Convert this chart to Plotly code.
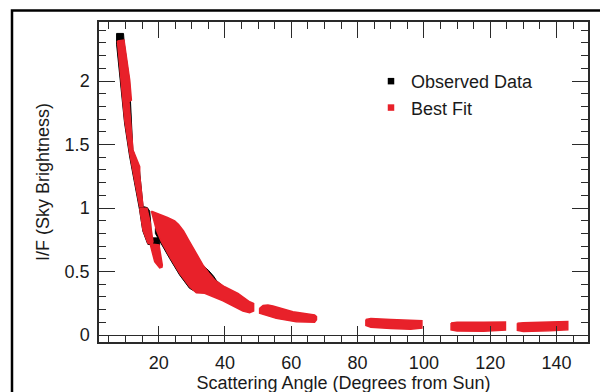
import plotly.graph_objects as go

# ---------------- data ----------------
# Each band is given by its upper and lower edges as (scattering angle [deg], I/F)

# Best Fit (red) bands
fit_a_upper = [(7.55, 2.315), (9.54, 2.323), (11.26, 2.008), (11.77, 1.850), (11.05, 1.837),
               (12.25, 1.457), (14.27, 1.325), (14.27, 1.26), (15.27, 1.010)]
fit_a_lower = [(7.55, 2.297), (8.75, 1.955), (9.75, 1.693), (11.26, 1.433), (12.76, 1.220), (14.27, 1.010)]

fit_b_upper = [(14.27, 0.998), (16.47, 0.998), (17.5, 0.880), (18.28, 0.735)]
fit_b_lower = [(14.27, 0.969), (15.27, 0.827), (16.77, 0.722), (18.0, 0.715)]

fit_c_upper = [(17.59, 0.717), (20.1, 0.709), (21.1, 0.551)]
fit_c_lower = [(17.59, 0.700), (18.8, 0.577), (20.3, 0.528), (21.0, 0.535)]

fit_d_upper = [(17.80, 0.976), (19.79, 0.958), (21.30, 0.939), (22.80, 0.924), (24.82, 0.898),
               (26.0, 0.870), (27.5, 0.820), (29.0, 0.750), (30.5, 0.680), (32.0, 0.610),
               (33.5, 0.545), (35.1, 0.488), (36.9, 0.433), (39.90, 0.380), (43.91, 0.328),
               (47.43, 0.262), (48.64, 0.248)]
fit_d_lower = [(17.80, 0.971), (19.31, 0.827), (20.81, 0.735), (23.32, 0.617), (26.33, 0.486),
               (29.35, 0.380), (31.37, 0.333), (33.87, 0.328), (39.39, 0.270), (45.41, 0.189),
               (47.43, 0.176), (48.64, 0.189)]

fit_e_upper = [(50.45, 0.210), (51.5, 0.232), (52.95, 0.236), (54.46, 0.228), (60.49, 0.183),
               (67.03, 0.157), (67.6, 0.145)]
fit_e_lower = [(50.45, 0.171), (55.48, 0.131), (61.51, 0.105), (67.03, 0.100), (67.6, 0.120)]

fit_f_upper = [(82.5, 0.122), (84.0, 0.130), (90.0, 0.122), (96.0, 0.115), (99.4, 0.112)]
fit_f_lower = [(82.5, 0.075), (84.0, 0.062), (90.0, 0.052), (96.0, 0.045), (99.4, 0.055)]

fit_g_upper = [(108.2, 0.094), (110.0, 0.100), (118.0, 0.100), (124.6, 0.102)]
fit_g_lower = [(108.2, 0.040), (110.0, 0.031), (118.0, 0.030), (124.6, 0.040)]

fit_h_upper = [(128.2, 0.092), (130.0, 0.097), (138.0, 0.102), (143.4, 0.106)]
fit_h_lower = [(128.2, 0.036), (130.0, 0.028), (138.0, 0.033), (143.4, 0.042)]

# Observed Data (black) bands, mostly hidden beneath the fit
obs_a_upper = [(7.3, 2.375), (9.4, 2.375), (9.6, 2.30), (11.2, 2.0), (12.2, 1.46), (14.2, 1.30),
               (15.3, 1.012), (16.6, 1.003), (17.3, 0.975), (17.6, 0.88)]
obs_a_lower = [(7.3, 2.29), (8.7, 1.93), (9.7, 1.67), (11.2, 1.41), (12.7, 1.20), (14.2, 0.99),
               (15.2, 0.82), (16.7, 0.715), (17.6, 0.71)]

obs_b_upper = [(18.2, 0.765), (20.3, 0.765)]
obs_b_lower = [(18.2, 0.705), (20.3, 0.705)]

obs_c_upper = [(19.0, 0.84), (25.0, 0.75), (30.0, 0.62), (33.9, 0.53), (35.0, 0.510),
               (36.6, 0.462), (37.4, 0.43), (40.0, 0.37), (47.0, 0.25)]
obs_c_lower = [(19.0, 0.80), (20.6, 0.722), (23.3, 0.603), (26.3, 0.473), (29.3, 0.368),
               (31.5, 0.335), (34.0, 0.335), (40.0, 0.28), (47.0, 0.20)]

obs_bands = [(obs_a_upper, obs_a_lower), (obs_b_upper, obs_b_lower), (obs_c_upper, obs_c_lower)]
fit_bands = [(fit_a_upper, fit_a_lower), (fit_b_upper, fit_b_lower), (fit_c_upper, fit_c_lower),
             (fit_d_upper, fit_d_lower), (fit_e_upper, fit_e_lower), (fit_f_upper, fit_f_lower),
             (fit_g_upper, fit_g_lower), (fit_h_upper, fit_h_lower)]

series_names = ["Observed Data", "Best Fit"]
x_tick_values = [20, 40, 60, 80, 100, 120, 140]
y_tick_values = [0, 0.5, 1, 1.5, 2]

# ---------------- styling ----------------
RED = "#e8212a"
BLACK = "#000000"
AXIS = "#2a2a2a"
TXT = "#1a1a1a"
FONT = "Liberation Sans, Arial, Helvetica, sans-serif"

# the page body adds an 8 px offset; margins are chosen so the plot area
# lands at x 99..588, y 22..342 of the screenshot
ML, MT, PW, PH = 91, 14, 489, 320


def outline(upper, lower):
    pts = list(upper) + list(reversed(lower))
    pts.append(upper[0])
    return [p[0] for p in pts], [p[1] for p in pts]


fig = go.Figure()

for up, lo in obs_bands:
    xs, ys = outline(up, lo)
    fig.add_trace(go.Scatter(x=xs, y=ys, mode="lines", fill="toself", fillcolor=BLACK,
                             line=dict(color=BLACK, width=1), showlegend=False,
                             hoverinfo="skip"))

for up, lo in fit_bands:
    xs, ys = outline(up, lo)
    fig.add_trace(go.Scatter(x=xs, y=ys, mode="lines", fill="toself", fillcolor=RED,
                             line=dict(color=RED, width=1.5), showlegend=False,
                             hoverinfo="skip"))

# legend entries (square markers, as in the reference)
for name, col in [(series_names[0], BLACK), (series_names[1], RED)]:
    fig.add_trace(go.Scatter(x=[None], y=[None], mode="markers", name=name,
                             marker=dict(symbol="square", size=6.5, color=col)))

axis_common = dict(
    showline=True, linecolor=AXIS, linewidth=1.5, mirror="ticks",
    ticks="inside", ticklen=16, tickwidth=1.4, tickcolor=AXIS,
    showgrid=False, automargin=False,
    tickfont=dict(family=FONT, size=18, color=TXT),
)

fig.update_xaxes(
    range=[2, 149.5], tickvals=x_tick_values, zeroline=False,
    minor=dict(dtick=5, tick0=0, ticks="inside", ticklen=7, tickwidth=1.2, tickcolor=AXIS),
    title=dict(text="Scattering Angle (Degrees from Sun)", font=dict(family=FONT, size=18, color=TXT),
               standoff=2),
    ticklabelstandoff=4,
    **axis_common,
)
fig.update_yaxes(
    range=[-0.055, 2.465], tickvals=y_tick_values,
    zeroline=True, zerolinecolor=AXIS, zerolinewidth=1.2,
    minor=dict(dtick=0.1, tick0=0, ticks="inside", ticklen=7, tickwidth=1.2, tickcolor=AXIS),
    title=dict(text="I/F (Sky Brightness)", font=dict(family=FONT, size=18, color=TXT),
               standoff=10),
    ticklabelstandoff=4,
    **axis_common,
)

# outer black frame (partly outside the picture)
fig.add_shape(type="rect", xref="paper", yref="paper",
              x0=(4 - ML) / PW, x1=1.2, y0=-0.4, y1=(MT + PH - 2.5) / PH,
              line=dict(color=BLACK, width=2.5), fillcolor="rgba(0,0,0,0)", layer="above")

fig.update_layout(
    width=608, height=392,
    margin=dict(l=ML, r=608 - ML - PW, t=MT, b=392 - MT - PH, autoexpand=False),
    paper_bgcolor="white", plot_bgcolor="white",
    font=dict(family=FONT, size=18, color=TXT),
    showlegend=True,
    legend=dict(x=(363 - ML) / PW, y=0.872, xanchor="left", yanchor="top",
                bgcolor="rgba(0,0,0,0)", borderwidth=0, tracegroupgap=0,
                font=dict(family=FONT, size=18, color=TXT)),
)

fig.write_html("out.html")
